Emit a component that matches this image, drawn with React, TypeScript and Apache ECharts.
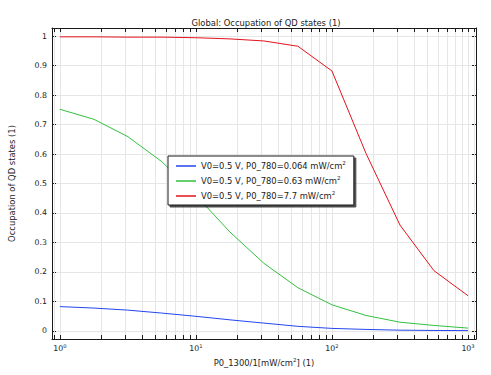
import React, { useEffect, useRef } from "react";
import * as echarts from "echarts";

const xValues = [1, 1.78, 3.16, 5.62, 10, 17.8, 31.6, 56.2, 100, 178, 316, 562, 1000];
const blueValues = [0.082, 0.077, 0.07, 0.06, 0.049, 0.037, 0.026, 0.015, 0.008, 0.0045, 0.002, 0.001, 0.0005];
const greenValues = [0.752, 0.718, 0.659, 0.574, 0.46, 0.335, 0.229, 0.146, 0.088, 0.052, 0.029, 0.018, 0.009];
const redValues = [0.998, 0.998, 0.997, 0.997, 0.995, 0.991, 0.984, 0.966, 0.882, 0.602, 0.359, 0.204, 0.119];
const seriesNames = [
  "V0=0.5 V, P0_780=0.064 mW/cm",
  "V0=0.5 V, P0_780=0.63 mW/cm",
  "V0=0.5 V, P0_780=7.7 mW/cm",
];
const minorXTicks = [0.9, 2, 3, 4, 5, 6, 7, 8, 9, 20, 30, 40, 50, 60, 70, 80, 90, 200, 300, 400, 500, 600, 700, 800, 900, 1100];

const FONT = "DejaVu Sans";
const TXT = "#1a1a1a";
const X_MIN = 0.875;
const X_MAX = 1145;
const Y_MIN = -0.028;
const Y_MAX = 1.028;

export default function App() {
  const ref = useRef<HTMLDivElement>(null);
  useEffect(() => {
    if (!ref.current) return;
    const chart = echarts.init(ref.current, null, { renderer: "svg" });
    const colors = ["#2447ee", "#33c13f", "#e3131c"];
    const allData = [blueValues, greenValues, redValues];
    const supRich = {
      t: { fontSize: 8.4, fontFamily: FONT, color: TXT, lineHeight: 12 },
      s: { fontSize: 5.5, fontFamily: FONT, color: TXT, lineHeight: 6, verticalAlign: "top" },
    };
    const tickRich = {
      b: { fontSize: 7.8, fontFamily: FONT, color: TXT, lineHeight: 11 },
      s: { fontSize: 5.2, fontFamily: FONT, color: TXT, lineHeight: 5, verticalAlign: "top" },
    };
    const isPow10 = (v: number) => Math.abs(Math.log10(v) - Math.round(Math.log10(v))) < 1e-6;
    const xAxisBase = {
      type: "log",
      logBase: 10,
      min: X_MIN,
      max: X_MAX,
      axisLine: { show: true, onZero: false, lineStyle: { color: "#1a1a1a", width: 1 } },
      axisTick: { show: true, inside: true, length: 4, lineStyle: { color: "#1a1a1a" } },
    };
    const yAxisBase = {
      type: "value",
      min: Y_MIN,
      max: Y_MAX,
      splitNumber: 10,
      axisLine: { show: true, onZero: false, lineStyle: { color: "#1a1a1a", width: 1 } },
      axisTick: { show: true, inside: true, length: 4, lineStyle: { color: "#1a1a1a" } },
    };
    const option: any = {
      animation: false,
      backgroundColor: "#ffffff",
      title: {
        text: "Global: Occupation of QD states (1)",
        left: 261,
        top: 14,
        textAlign: "center",
        textStyle: { fontSize: 8.4, fontWeight: "normal", fontFamily: FONT, color: TXT },
      },
      grid: { left: 46, right: 15, top: 28, bottom: 36, containLabel: false },
      legend: {
        orient: "vertical",
        left: 168,
        top: 156,
        padding: [4, 8, 5, 8],
        itemGap: 5,
        itemWidth: 20,
        itemHeight: 1.5,
        icon: "rect",
        backgroundColor: "#ffffff",
        borderColor: "#1a1a1a",
        borderWidth: 1,
        borderRadius: 0,
        shadowColor: "rgba(0,0,0,0.7)",
        shadowBlur: 0,
        shadowOffsetX: 2,
        shadowOffsetY: 2,
        data: seriesNames,
        formatter: (name: string) => `{t|${name}}{s|2}`,
        textStyle: { fontSize: 8.4, fontFamily: FONT, color: TXT, rich: supRich },
      },
      xAxis: [
        {
          ...xAxisBase,
          position: "bottom",
          name: "{t|P0_1300/1[mW/cm}{s|2}{t|] (1)}",
          nameLocation: "middle",
          nameGap: 9,
          nameTextStyle: { fontSize: 8.4, fontFamily: FONT, color: TXT, rich: supRich },
          axisLabel: {
            show: true,
            margin: 4,
            formatter: (v: number) => (isPow10(v) ? `{b|10}{s|${Math.round(Math.log10(v))}}` : ""),
            rich: tickRich,
          },
          splitLine: { show: true, lineStyle: { color: "#e6e6e6", width: 1 } },
        },
        {
          ...xAxisBase,
          position: "top",
          axisLabel: { show: false },
          splitLine: { show: false },
        },
      ],
      yAxis: [
        {
          ...yAxisBase,
          position: "left",
          name: "Occupation of QD states (1)",
          nameLocation: "middle",
          nameGap: 36,
          nameTextStyle: { fontSize: 8.4, fontFamily: FONT, color: TXT },
          axisLabel: {
            show: true,
            margin: 5,
            fontSize: 7.8,
            fontFamily: FONT,
            color: TXT,
            formatter: (v: number) => (v < -1e-6 || v > 1 + 1e-6 ? "" : String(Math.round(v * 10) / 10)),
          },
          splitLine: { show: true, lineStyle: { color: "#e6e6e6", width: 1 } },
        },
        {
          ...yAxisBase,
          position: "right",
          axisLabel: { show: false },
          splitLine: { show: false },
        },
      ],
      series: [
        {
          type: "custom",
          name: "minor",
          xAxisIndex: 0,
          yAxisIndex: 0,
          z: 1,
          silent: true,
          clip: false,
          data: minorXTicks.map((v) => [v, 0.5]),
          encode: { x: 0, y: 1 },
          renderItem: (params: any, api: any) => {
            const x = api.coord([api.value(0), 0.5])[0];
            const cs = params.coordSys;
            const top = cs.y;
            const bottom = cs.y + cs.height;
            const xx = Math.round(x) + 0.5;
            return {
              type: "group",
              children: [
                { type: "line", shape: { x1: xx, y1: top, x2: xx, y2: bottom }, style: { stroke: "#e6e6e6", lineWidth: 1 } },
                { type: "line", shape: { x1: xx, y1: bottom, x2: xx, y2: bottom - 4 }, style: { stroke: "#1a1a1a", lineWidth: 1 } },
                { type: "line", shape: { x1: xx, y1: top, x2: xx, y2: top + 4 }, style: { stroke: "#1a1a1a", lineWidth: 1 } },
              ],
            };
          },
        },
        ...seriesNames.map((name, i) => ({
          type: "line",
          name,
          xAxisIndex: 0,
          yAxisIndex: 0,
          z: 3,
          showSymbol: false,
          symbol: "none",
          color: colors[i],
          lineStyle: { color: colors[i], width: 1 },
          data: xValues.map((x, j) => [x, allData[i][j]]),
        })),
      ],
    };
    chart.setOption(option);
    return () => chart.dispose();
  }, []);
  return <div ref={ref} style={{ width: 491, height: 375, position: "absolute", left: 0, top: 0 }} />;
}
